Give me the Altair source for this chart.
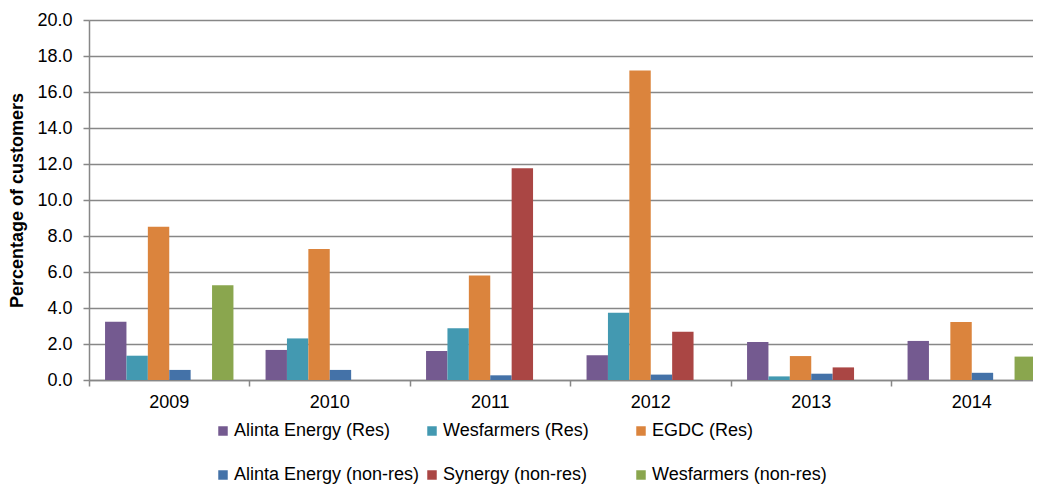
import altair as alt
import pandas as pd

years = ["2009", "2010", "2011", "2012", "2013", "2014"]
series = [
    "Alinta Energy (Res)",
    "Wesfarmers (Res)",
    "EGDC (Res)",
    "Alinta Energy (non-res)",
    "Synergy (non-res)",
    "Wesfarmers (non-res)",
]
colors = ["#745A90", "#4399B1", "#DB843D", "#4472A8", "#AA4644", "#8AA64E"]

alinta_res = [3.24, 1.67, 1.61, 1.37, 2.11, 2.17]
wesfarmers_res = [1.35, 2.31, 2.87, 3.74, 0.20, 0.0]
egdc_res = [8.52, 7.28, 5.80, 17.20, 1.33, 3.22]
alinta_nonres = [0.56, 0.56, 0.26, 0.30, 0.35, 0.40]
synergy_nonres = [0.0, 0.0, 11.76, 2.68, 0.70, 0.0]
wesfarmers_nonres = [5.26, 0.0, 0.0, 0.0, 0.0, 1.30]
y_ticks = [0, 2, 4, 6, 8, 10, 12, 14, 16, 18, 20]

values = [alinta_res, wesfarmers_res, egdc_res, alinta_nonres, synergy_nonres, wesfarmers_nonres]

rows = []
for s, vals in zip(series, values):
    for y, v in zip(years, vals):
        rows.append({"Year": y, "Series": s, "Value": v})
df = pd.DataFrame(rows)

FONT = "Liberation Sans"
GRAY = "#878787"

x_scale = alt.Scale(paddingInner=0, paddingOuter=0, range=[0, 963])
y_scale = alt.Scale(domain=[0, 20], nice=False)
y_axis = alt.Axis(title="Percentage of customers", values=y_ticks,
                  format=".1f", labelFontSize=18, labelColor="black", labelFont=FONT,
                  labelPadding=11, labelOverlap=False, tickSize=6, tickColor=GRAY, tickWidth=1.5,
                  domainColor=GRAY, domainWidth=1.5,
                  gridColor=GRAY, gridWidth=1.5,
                  titleFont=FONT, titleFontSize=18, titleFontWeight="bold",
                  titleColor="black", titlePadding=10)

base = alt.Chart(df)

bars = base.mark_bar().encode(
    x=alt.X("Year:N", scale=x_scale, sort=years,
            axis=alt.Axis(title=None, orient="bottom", ticks=False, labelFontSize=18,
                          labelColor="black", labelFont=FONT, labelAngle=0, labelPadding=13,
                          domainColor=GRAY, domainWidth=1.5, grid=False)),
    xOffset=alt.XOffset("Series:N", sort=series,
                        scale=alt.Scale(paddingInner=0, paddingOuter=0.75)),
    y=alt.Y("Value:Q", scale=y_scale, axis=y_axis),
    color=alt.Color("Series:N", sort=series,
                    scale=alt.Scale(domain=series, range=colors),
                    legend=alt.Legend(title=None, orient="none", legendX=125, legendY=402,
                                      columns=3, direction="horizontal", gridAlign="all",
                                      symbolType="square", symbolSize=90, symbolStrokeWidth=0,
                                      labelFont=FONT, labelFontSize=18, labelColor="black",
                                      labelOffset=2, columnPadding=3, rowPadding=26,
                                      labelLimit=400)),
)

ticks = base.mark_bar(opacity=0).encode(
    x=alt.X("Year:N", scale=x_scale, sort=years,
            axis=alt.Axis(title=None, orient="bottom", labels=False, ticks=True, tickSize=6,
                          tickColor=GRAY, tickWidth=1.5, domain=False, grid=False,
                          bandPosition=0)),
    xOffset=alt.XOffset("Series:N", sort=series),
    y=alt.Y("Value:Q", scale=y_scale, axis=y_axis),
)

chart = (
    alt.layer(bars, ticks)
    .resolve_axis(x="independent")
    .properties(width=944, height=360,
                autosize=alt.AutoSizeParams(type="none"),
                padding={"left": 81, "top": 12, "right": 0, "bottom": 104})
    .configure_view(stroke=None)
    .configure(background="white")
)

chart.save("out.html", embed_options={"renderer": "svg", "actions": False})
